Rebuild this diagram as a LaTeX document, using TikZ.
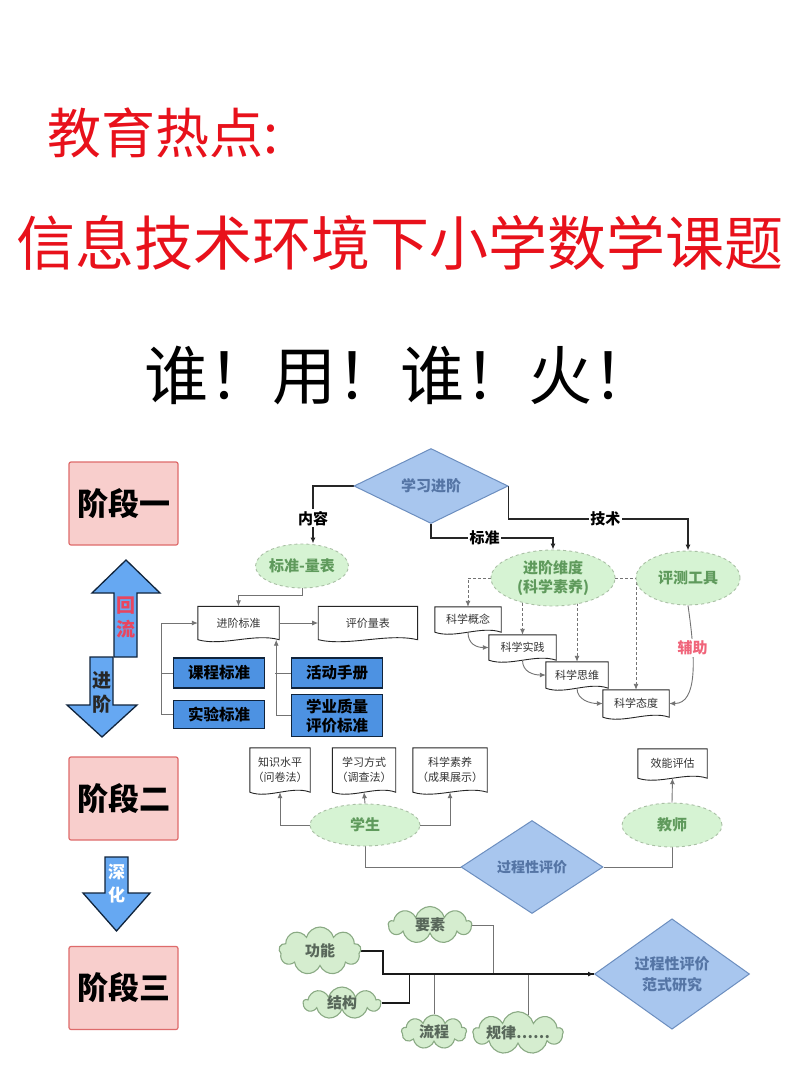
\documentclass[tikz,border=0pt]{standalone}
\usepackage{fontspec}
\setmainfont{Noto Sans CJK SC}
\usetikzlibrary{positioning,shapes.geometric,shapes.symbols,arrows.meta,calc,backgrounds}

\definecolor{TitleRed}{HTML}{E8111B}
\definecolor{StageFill}{HTML}{F8CECC}
\definecolor{StageLine}{HTML}{DE6B6B}
\definecolor{ArrowBlue}{HTML}{66A8F2}
\definecolor{BoxBlue}{HTML}{4D92E2}
\definecolor{NavyLine}{HTML}{10243C}
\definecolor{DiaFill}{HTML}{A8C6EE}
\definecolor{DiaLine}{HTML}{6C8EBF}
\definecolor{DiaText}{HTML}{5575A5}
\definecolor{EllFill}{HTML}{D6F3D3}
\definecolor{EllLine}{HTML}{A9BFA4}
\definecolor{EllText}{HTML}{5F9A5C}
\definecolor{CloudFill}{HTML}{D5EDCF}
\definecolor{CloudLine}{HTML}{8AAA84}
\definecolor{CloudText}{HTML}{58675A}
\definecolor{AidRed}{HTML}{F0647A}
\definecolor{FlowRed}{HTML}{E8455F}

\begin{document}
\begin{tikzpicture}[x=1pt, y=-1pt, node distance=0pt,
StageStyle/.style={draw=StageLine, line width=1.2pt, fill=StageFill, rounded corners=2pt,
                minimum width=109pt, minimum height=83pt, inner sep=0pt,
                font=\fontsize{31}{31}\selectfont\bfseries},
ArrowShape/.style={fill=ArrowBlue, draw=NavyLine, line width=1.3pt, line join=miter},
ShaftText/.style={align=center, inner sep=0pt, font=\fontsize{19}{24}\selectfont\bfseries},
BlueBox/.style={draw=NavyLine, line width=1.6pt, fill=BoxBlue, minimum width=91pt,
                inner sep=0pt, align=center, font=\fontsize{15.5}{19}\selectfont\bfseries},
DiaStyle/.style={diamond, draw=DiaLine, line width=1pt, fill=DiaFill, inner sep=0pt,
                align=center, text=DiaText, font=\fontsize{15}{20}\selectfont\bfseries},
EllStyle/.style={ellipse, draw=EllLine, dashed, line width=0.9pt, fill=EllFill, inner sep=0pt,
                align=center, text=EllText, font=\fontsize{15}{19}\selectfont\bfseries},
CloudStyle/.style={cloud, cloud puffs=9, cloud ignores aspect, draw=CloudLine, line width=1.1pt,
                fill=CloudFill, inner sep=0pt, text=CloudText, font=\fontsize{15}{15}\selectfont\bfseries},
DocStyle/.style={inner sep=0pt, align=center, text=black!80, font=\fontsize{11}{15}\selectfont},
DocLine/.style={draw=black!85, fill=white, line width=0.9pt},
DarkLine/.style={draw=black!85, line width=1.3pt},
GrayLine/.style={draw=black!55, line width=0.9pt},
DashLine/.style={draw=black!55, line width=0.9pt, dash pattern=on 3pt off 2pt},
MainLine/.style={draw=black!90, line width=1.6pt},
Arr/.style={-{Latex[length=6pt, width=5pt]}},
Lbl/.style={fill=white, inner sep=1.5pt, text=black, font=\fontsize{15}{15}\selectfont\bfseries},]
\useasboundingbox (0,0) rectangle (800,1069);

% titles
\node [anchor=west, text=TitleRed, font=\fontsize{54}{54}\selectfont] (t1) at (44,133) {教育热点:};
\node [text=TitleRed, font=\fontsize{59}{59}\selectfont] (t2) at (400,243) {信息技术环境下小学数学课题};
\node [anchor=west, font=\fontsize{64}{64}\selectfont] (t3) at (141,375) {谁！用！谁！火！};

% stages
\node [StageStyle] (s1) at (123.5,503.5) {阶段一};
\node [StageStyle] (s2) at (123.5,798.5) {阶段二};
\node [StageStyle] (s3) at (123.5,988) {阶段三};

\filldraw [ArrowShape] (126,560) -- (160,593) -- (137,593) -- (137,657) -- (114,657)
  -- (114,593) -- (92,593) -- cycle;
\filldraw [ArrowShape] (90,657) -- (113,657) -- (113,705) -- (137,705) -- (102,737)
  -- (67,705) -- (90,705) -- cycle;
\filldraw [ArrowShape] (105,857) -- (128,857) -- (128,893) -- (150,893) -- (116.5,931)
  -- (83,893) -- (105,893) -- cycle;
\node [ShaftText, text=FlowRed] (hl) at (125.5,617) {回\\流};
\node [ShaftText, text=black!85] (jinjie) at (101.5,692) {进\\阶};
\node [ShaftText, text=white, font=\fontsize{17}{23}\selectfont\bfseries] (sh) at (116.5,884) {深\\化};

% upper part
\node [DiaStyle, minimum width=154pt, minimum height=75pt] (xxjj) at (431,486) {学习进阶};
\node [EllStyle, minimum width=86pt, minimum height=44pt] (bzlb) at (302,566) {标准-量表};
\node [EllStyle, minimum width=124pt, minimum height=56pt] (jjwd) at (553,578) {进阶维度\\(科学素养)};
\node [EllStyle, minimum width=104pt, minimum height=54pt] (pcgj) at (688,578) {评测工具};

\node [DocStyle, minimum width=81pt, minimum height=33pt] (jjbz) at (238.5,623) {进阶标准};
\node [DocStyle, minimum width=99pt, minimum height=33pt, right=39pt of jjbz] (pjlb) {评价量表};

\node [BlueBox, minimum height=30pt] (kcbz) at (219,673) {课程标准};
\node [BlueBox, minimum height=28pt, below=11pt of kcbz] (sybz) {实验标准};
\node [BlueBox, minimum height=30pt] (hdsc) at (337,673) {活动手册};
\node [BlueBox, minimum height=42pt, below=5pt of hdsc] (xyzl) {学业质量\\评价标准};

\node [DocStyle, minimum width=66pt, minimum height=25pt] (kxgn) at (468,619.5) {科学概念};
\node [DocStyle, minimum width=67pt, minimum height=25pt] (kxsj) at (522.5,647.5) {科学实践};
\node [DocStyle, minimum width=62pt, minimum height=26pt] (kxsw) at (577,675) {科学思维};
\node [DocStyle, minimum width=66pt, minimum height=27pt] (kxtd) at (636,703.5) {科学态度};

% middle part
\node [DocStyle, minimum width=60pt, minimum height=44pt] (zssp) at (280,770) {知识水平\\（问卷法）};
\node [DocStyle, minimum width=63pt, minimum height=44pt] (xxfs) at (364,770) {学习方式\\（调查法）};
\node [DocStyle, minimum width=74pt, minimum height=44pt] (kxsy) at (450,770) {科学素养\\（成果展示）};
\node [DocStyle, minimum width=69pt, minimum height=29pt] (xnpg) at (672.5,763.5) {效能评估};
\node [EllStyle, minimum width=110pt, minimum height=42pt] (xs) at (365,825) {学生};
\node [EllStyle, minimum width=100pt, minimum height=44pt] (js) at (672,825) {教师};
\node [DiaStyle, minimum width=142pt, minimum height=93pt, font=\fontsize{14}{18}\selectfont\bfseries] (gcxpj) at (532,867) {过程性评价};

% lower part
\node [CloudStyle, minimum width=83pt, minimum height=37pt] (ys) at (430,925) {要素};
\node [CloudStyle, minimum width=82pt, minimum height=48pt] (gn) at (320,951) {功能};
\node [CloudStyle, minimum width=77pt, minimum height=32pt] (jg) at (342,1003) {结构};
\node [CloudStyle, minimum width=65pt, minimum height=34pt] (lc) at (434,1032) {流程};
\node [CloudStyle, minimum width=90pt, minimum height=35pt] (gl) at (518,1033) {规律……};
\node [DiaStyle, minimum width=155pt, minimum height=97pt, font=\fontsize{15}{21}\selectfont\bfseries] (fsyj) at (672,974) {过程性评价\\范式研究};

\begin{scope}[on background layer]
\fill [white] (0,0) rectangle (800,1069);
\foreach \dn in {jjbz,pjlb,kxgn,kxsj,kxsw,kxtd,zssp,xxfs,kxsy,xnpg}
  \filldraw [DocLine] (\dn.north west) -- (\dn.south west)
    .. controls ($(\dn.south west)!0.3!(\dn.south east)+(0,7)$)
    and ($(\dn.south west)!0.7!(\dn.south east)+(0,-7)$) .. (\dn.south east)
    -- (\dn.north east) -- cycle;

\draw [DarkLine, Arr] (xxjj.west) -| ($(bzlb.north)+(11,0)$) node [Lbl, pos=0.78] {内容};
\draw [DarkLine, Arr] (xxjj.south) -- ++(0,14) -| (jjwd.north) node [Lbl, pos=0.22] {标准};
\draw [DarkLine, Arr] (xxjj.east) -- ++(0,33) -| (pcgj.north) node [Lbl, pos=0.27] {技术};

\draw [GrayLine, Arr] (bzlb.south) -- ++(0,7) -| (jjbz.north);
\draw [GrayLine, Arr] (jjbz.east) -- (pjlb.west);
\draw [GrayLine, Arr] (sybz.west) -- ++(-11,0) |- (jjbz.west);
\draw [GrayLine] (kcbz.west) -- ++(-11,0);
\draw [GrayLine, Arr] (xyzl.west) -| ($(jjbz.south east)+(-3,0)$);
\draw [GrayLine] (hdsc.west) -- ++(-16,0);

\draw [DashLine, Arr] (jjwd.west) -| (kxgn.north);
\draw [DashLine, Arr] (jjwd.center -| kxsj.north) -- (kxsj.north);
\draw [DashLine, Arr] (jjwd.center -| kxsw.north) -- (kxsw.north);
\draw [DashLine, Arr] (jjwd.east) -| (kxtd.north);

\draw [GrayLine, Arr] (kxgn.south) .. controls +(0,12) and +(-12,0) .. (kxsj.west);
\draw [GrayLine, Arr] (kxsj.south) .. controls +(0,12) and +(-12,0) .. (kxsw.west);
\draw [GrayLine, Arr] (kxsw.south) .. controls +(0,12) and +(-12,0) .. (kxtd.west);
\draw [GrayLine, Arr] (pcgj.south) .. controls +(8,55) and +(28,0) .. (kxtd.east)
  node [Lbl, text=AidRed, pos=0.28] {辅助};

\draw [GrayLine, Arr] (xs.west) -| (zssp.south);
\draw [GrayLine, Arr] (xs.north) -- (xxfs.south);
\draw [GrayLine, Arr] (xs.east) -| (kxsy.south);
\draw [GrayLine] (xs.south) |- (gcxpj.west);
\draw [GrayLine] (gcxpj.east) -| (js.south);
\draw [GrayLine, Arr] (js.north) -- (xnpg.south);

\draw [GrayLine] (ys.east) -- ++(21,0) |- (fsyj.west);
\draw [GrayLine] (lc.north) |- (fsyj.west);
\draw [GrayLine] ($(gl.north)+(10,4)$) |- (fsyj.west);
\draw [MainLine] (jg.east) -- ++(28,0) |- (fsyj.west);
\draw [MainLine, Arr] (gn.east) -- ++(22,0) |- (fsyj.west);
\end{scope}
\end{tikzpicture}
\end{document}
